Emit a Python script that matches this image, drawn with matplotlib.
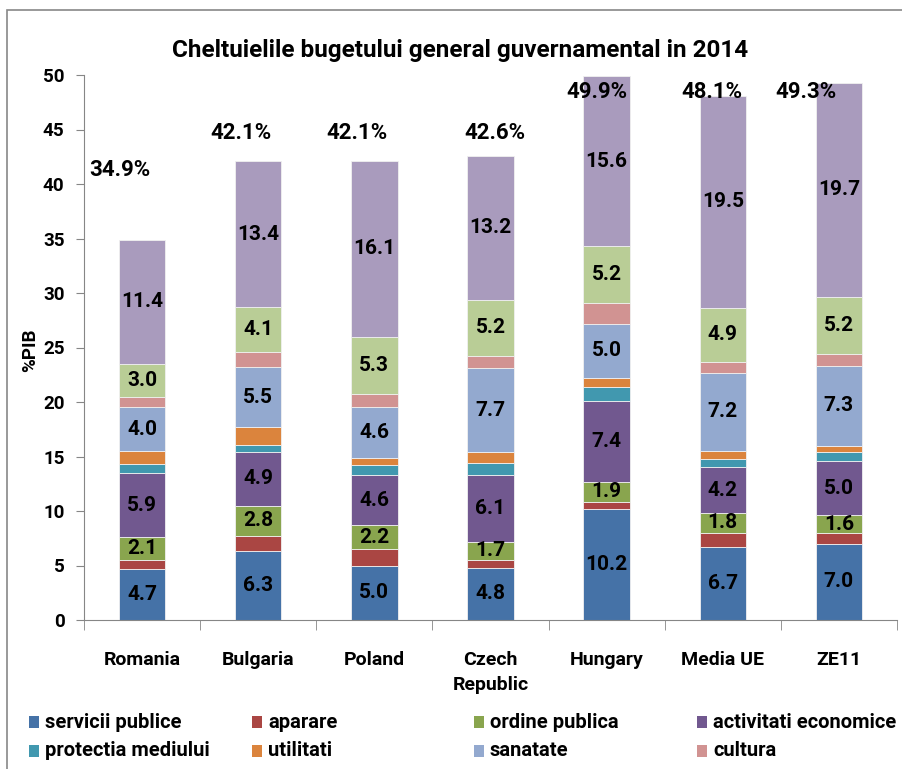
import matplotlib
matplotlib.use('Agg')
import matplotlib.pyplot as plt
import matplotlib.patches as patches
import numpy as np

plt.rcParams['font.family'] = ['Roboto', 'Lato', 'DejaVu Sans']
plt.rcParams['font.weight'] = 'bold'

# Government expenditure by function, % of GDP, 2014
countries = ['Romania', 'Bulgaria', 'Poland', 'Czech\nRepublic', 'Hungary', 'Media UE', 'ZE11']
servicii_publice = [4.7, 6.3, 5.0, 4.8, 10.2, 6.7, 7.0]
aparare = [0.8, 1.4, 1.5, 0.7, 0.6, 1.3, 1.0]
ordine_publica = [2.1, 2.8, 2.2, 1.7, 1.9, 1.8, 1.6]
activitati_economice = [5.9, 4.9, 4.6, 6.1, 7.4, 4.2, 5.0]
protectia_mediului = [0.8, 0.7, 0.9, 1.1, 1.3, 0.8, 0.8]
utilitati = [1.2, 1.6, 0.7, 1.0, 0.8, 0.7, 0.6]
sanatate = [4.0, 5.5, 4.6, 7.7, 5.0, 7.2, 7.3]
cultura = [1.0, 1.4, 1.2, 1.1, 1.9, 1.0, 1.1]
educatie = [3.0, 4.1, 5.3, 5.2, 5.2, 4.9, 5.2]
protectie_sociala = [11.4, 13.4, 16.1, 13.2, 15.6, 19.5, 19.7]
totals = [34.9, 42.1, 42.1, 42.6, 49.9, 48.1, 49.3]

series = [
    ('servicii publice', servicii_publice, '#4572A7', True),
    ('aparare', aparare, '#AA4643', False),
    ('ordine publica', ordine_publica, '#89A54E', True),
    ('activitati economice', activitati_economice, '#71588F', True),
    ('protectia mediului', protectia_mediului, '#4198AF', False),
    ('utilitati', utilitati, '#DB843D', False),
    ('sanatate', sanatate, '#93A9CF', True),
    ('cultura', cultura, '#D19392', False),
    ('educatie', educatie, '#B9CD96', True),
    ('protectie sociala', protectie_sociala, '#A99BBD', True),
]

# where the total labels sit (x shift in category units, y in %PIB)
total_dx = [-0.19, -0.15, -0.15, 0.04, -0.08, -0.09, -0.28]
total_y = [41.3, 44.7, 44.7, 44.7, 48.4, 48.4, 48.4]

W, H = 902, 769
fig = plt.figure(figsize=(W / 100, H / 100), dpi=100)
ax = fig.add_axes([84 / W, 1 - 620 / H, (897 - 84) / W, (620 - 75) / H])

x = np.arange(len(countries))
bottom = np.zeros(len(countries))
for name, vals, color, labeled in series:
    bars = ax.bar(x, vals, 0.4, bottom=bottom, color=color, edgecolor='#f0f0f0',
                  linewidth=0.6, label=name)
    if labeled:
        ax.bar_label(bars, labels=[f'{v:.1f}' for v in vals], label_type='center',
                     fontsize=15, fontweight='bold', color='black')
    bottom += np.array(vals)

for i, t in enumerate(totals):
    ax.text(i + total_dx[i], total_y[i], f'{t:.1f}%', ha='center', va='center',
            fontsize=16, fontweight='bold')

ax.set_xlim(-0.5, len(countries) - 0.5)
ax.set_ylim(0, 50)
ax.set_yticks(np.arange(0, 51, 5))
ax.set_xticks(x)
ax.set_xticklabels(countries, fontsize=14, fontweight='bold', linespacing=1.5)
ax.set_xticks(np.arange(-0.5, len(countries), 1), minor=True)
ax.tick_params(axis='x', which='major', length=0, pad=22)
ax.tick_params(axis='x', which='minor', length=7, color='#868686', direction='out')
ax.tick_params(axis='y', length=6, color='#868686', direction='out', labelsize=13.5, pad=8)
for lbl in ax.get_yticklabels():
    lbl.set_fontweight('bold')

for s in ['top', 'right']:
    ax.spines[s].set_visible(False)
for s in ['left', 'bottom']:
    ax.spines[s].set_color('#868686')

fig.text(30 / W, 1 - 350 / H, '%PIB', rotation=90, ha='center', va='center',
         fontsize=13.5, fontweight='bold')
fig.text(460 / W, 1 - 50 / H, 'Cheltuielile bugetului general guvernamental in 2014',
         ha='center', va='center', fontsize=17.5, fontweight='bold')

# outer chart border
fig.add_artist(patches.Rectangle((7 / W, -0.1), 1.2, 1.1 - 10 / H, transform=fig.transFigure,
                                 fill=False, edgecolor='#888888', linewidth=1.2))

# legend, laid out in equal-width columns (first eight series only)
col_x = [29, 252, 474, 697]
row_y = [722, 751]
for k, (name, vals, color, labeled) in enumerate(series[:8]):
    cx = col_x[k % 4]
    cy = row_y[k // 4]
    fig.add_artist(patches.Rectangle((cx / W, 1 - (cy + 6) / H), 10 / W, 12 / H,
                                     transform=fig.transFigure, facecolor=color,
                                     edgecolor='none'))
    fig.text((cx + 16) / W, 1 - cy / H, name, ha='left', va='center',
             fontsize=14.5, fontweight='bold')

fig.savefig('out.png', dpi=100)
